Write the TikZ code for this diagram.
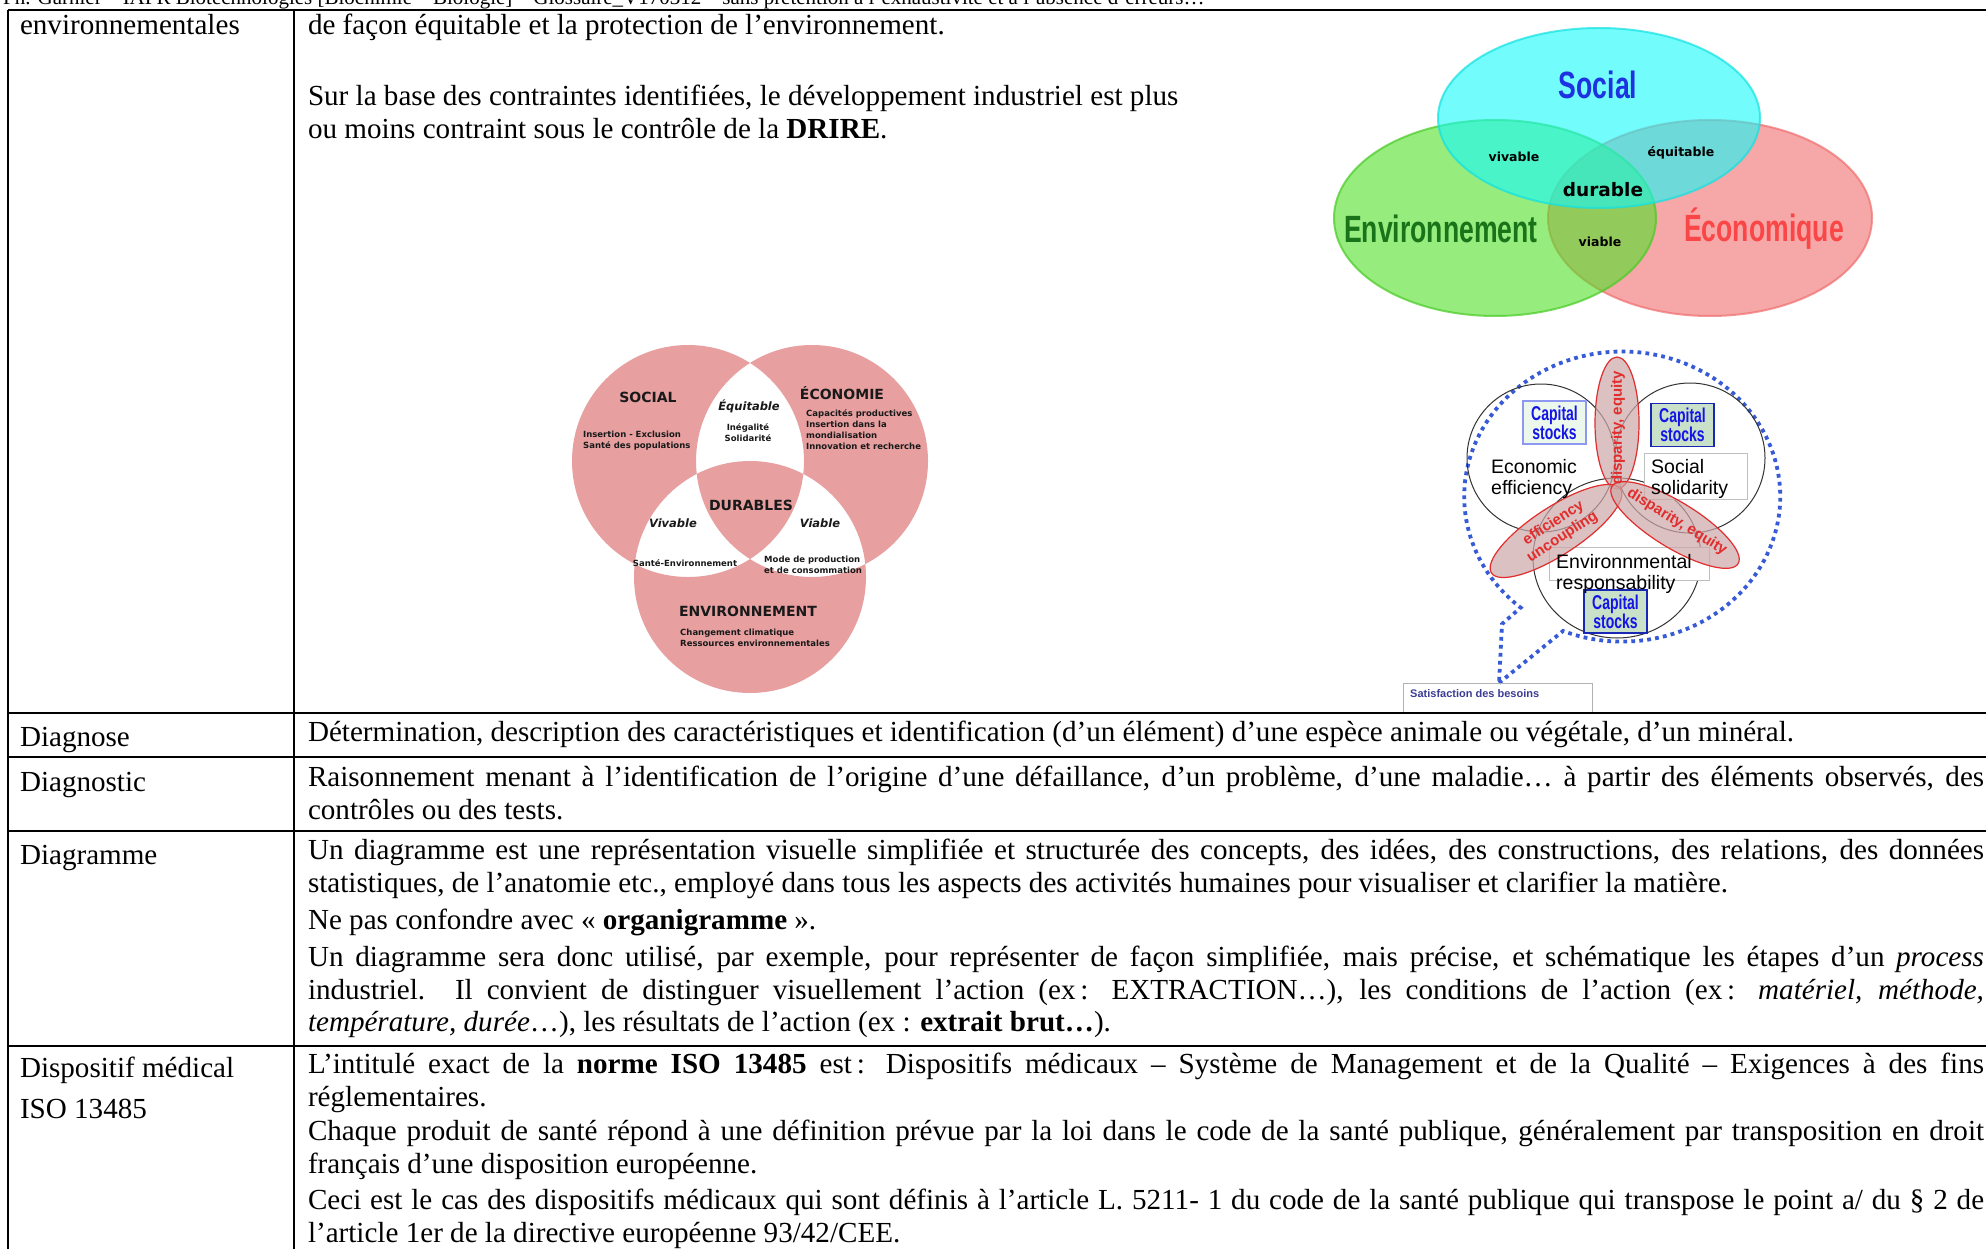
\documentclass[tikz,border=0pt]{standalone}
\usepackage{fontspec}
\setmainfont{Liberation Serif}
\newfontfamily\sansf{Liberation Sans}
\newfontfamily\condf{Liberation Sans}[FakeStretch=0.70]
\newfontfamily\dejaf{DejaVu Sans}
\definecolor{cyanB}{RGB}{20,250,250}
\definecolor{greenB}{RGB}{80,225,40}
\definecolor{pinkB}{RGB}{240,110,110}
\definecolor{pinkV}{RGB}{231,159,160}
\definecolor{socblue}{RGB}{30,50,225}
\definecolor{envgreen}{RGB}{25,115,25}
\definecolor{ecored}{RGB}{250,70,70}
\definecolor{bubbleblue}{RGB}{55,90,215}
\definecolor{petred}{RGB}{225,45,45}
\definecolor{petfill}{RGB}{205,168,168}
\definecolor{capblue}{RGB}{20,20,230}
\definecolor{capfill}{RGB}{200,225,200}
\definecolor{capfillL}{RGB}{236,248,236}
\definecolor{satblue}{RGB}{60,60,150}
\newcommand\bodyfs{\fontsize{29.1}{33}\selectfont}
\newcommand\jl[1]{\hbox to 1676pt{#1}}
\tikzset{
  body/.style={anchor=base west, inner sep=0pt, outer sep=0pt, font=\bodyfs},
  rule/.style={line width=2.4pt, black},
  venn/.style={fill opacity=0.6, draw opacity=0.7, line width=2pt},
  bigl/.style={inner sep=0pt, font={\condf\bfseries\fontsize{38}{38}\selectfont}},
  smalll/.style={inner sep=0pt, font={\dejaf\bfseries\fontsize{12.5}{14}\selectfont}},
  dtitle/.style={inner sep=0pt, text=black!90, font={\dejaf\bfseries\fontsize{14}{16}\selectfont}},
  dital/.style={inner sep=0pt, text=black!90, font={\dejaf\bfseries\itshape\fontsize{11.5}{13}\selectfont}},
  dsmall/.style={inner sep=0pt, anchor=base west, text=black!90, font={\dejaf\bfseries\fontsize{8.5}{10}\selectfont}},
  dsmallc/.style={inner sep=0pt, anchor=base, text=black!90, font={\dejaf\bfseries\fontsize{8.5}{10}\selectfont}},
  thincirc/.style={draw=black!80, line width=1pt},
  bubble/.style={draw=bubbleblue, line width=3.8pt, dash pattern=on 3.8pt off 4.2pt},
  petal/.style={draw=petred, line width=1.2pt, fill=petfill, fill opacity=0.7},
  pettext/.style={inner sep=0pt, text=petred, align=center, font={\sansf\bfseries\fontsize{15}{16}\selectfont}},
  capbox/.style={draw=#1, line width=1.2pt, inner sep=0pt, minimum width=63pt, minimum height=43pt, align=center, text=capblue, font={\condf\bfseries\fontsize{20}{19}\selectfont}},
  blk/.style={inner sep=0pt, anchor=base west, font={\sansf\fontsize{19.5}{21}\selectfont}},
  graybox/.style={draw=black!25, line width=0.8pt, fill=white}
}
\begin{document}
\begin{tikzpicture}[x=1pt,y=-1pt]
\useasboundingbox (0,0) rectangle (1986,1249);
\fill[white] (0,0) rectangle (1986,1249);

% header (cut by the page edge)
\node[anchor=base west, inner sep=0pt, font={\fontsize{21}{21}\selectfont}] (hdr) at (3,5)
  {Ph. Garnier – IAPR Biotechnologies [Biochimie – Biologie] – \underline{Glossaire\_V170312} – sans prétention à l’exhaustivité et à l’absence d’erreurs…};

% ===== Diagram 1 : coloured ellipses =====
\filldraw[venn, fill=pinkB, draw=pinkB] (1710,218) ellipse [x radius=162, y radius=98];
\filldraw[venn, fill=greenB, draw=greenB!90!black] (1495,218) ellipse [x radius=161, y radius=98];
\filldraw[venn, fill=cyanB, draw=cyanB!90!black] (1599,118) ellipse [x radius=161, y radius=90];
\node[bigl, text=socblue] (soc1) at (1598,85) {Social};
\node[bigl, text=envgreen] (env1) at (1441,229) {Environnement};
\node[bigl, text=ecored] (eco1) at (1764,229) {Économique};
\node[smalll] (viv1) at (1514,157) {vivable};
\node[smalll] (equ1) at (1681,153) {équitable};
\node[smalll, font={\dejaf\bfseries\fontsize{18.5}{20}\selectfont}] (dur1) at (1603,190) {durable};
\node[smalll] (via1) at (1600,242) {viable};

% ===== Diagram 2 : pink circles =====
\fill[pinkV, even odd rule] (688,461) circle [radius=116] (812,461) circle [radius=116] (750,577) circle [radius=116];
\node[dtitle] (soc2) at (648,397) {SOCIAL};
\node[dsmall] (soc2a) at (583,437) {Insertion - Exclusion};
\node[dsmall] (soc2b) at (583,448) {Santé des populations};
\node[dital] (equ2) at (749,406) {Équitable};
\node[dsmallc] (equ2a) at (748,430) {Inégalité};
\node[dsmallc] (equ2b) at (748,441) {Solidarité};
\node[dtitle] (eco2) at (842,393) {ÉCONOMIE};
\node[dsmall] (eco2a) at (806,416) {Capacités productives};
\node[dsmall] (eco2b) at (806,427) {Insertion dans la};
\node[dsmall] (eco2c) at (806,438) {mondialisation};
\node[dsmall] (eco2d) at (806,449) {Innovation et recherche};
\node[dtitle] (dur2) at (751,505) {DURABLES};
\node[dital] (viv2) at (673,523) {Vivable};
\node[dital] (via2) at (820,523) {Viable};
\node[dsmallc] (viv2a) at (685,566) {Santé-Environnement};
\node[dsmall] (via2a) at (764,562) {Mode de production};
\node[dsmall] (via2b) at (764,573) {et de consommation};
\node[dtitle] (env2) at (748,611) {ENVIRONNEMENT};
\node[dsmall] (env2a) at (680,635) {Changement climatique};
\node[dsmall] (env2b) at (680,646) {Ressources environnementales};

% ===== Diagram 3 : bubble =====
\draw[bubble] (1499,683) -- (1563,631) arc [start angle=112, end angle=-230, x radius=158, y radius=145] -- (1502,624) -- cycle;
\draw[thincirc] (1541,458) circle [radius=74];
\draw[thincirc] (1690,458) circle [radius=75];
\draw[thincirc] (1617,558) ellipse [x radius=84, y radius=80];
\node[graybox, minimum width=103pt, minimum height=46pt, inner sep=0pt] (socbox) at (1695.5,476) {};
\node[graybox, minimum width=160pt, minimum height=33pt, inner sep=0pt] (envbox) at (1629,563.5) {};
\node[capbox=socblue!50, fill=capfillL] (cap1) at (1554.5,422.5) {Capital\\stocks};
\node[capbox=socblue!80!black, fill=capfill] (cap2) at (1682.5,425) {Capital\\stocks};
\node[capbox=socblue!80!black, fill=capfill] (cap3) at (1615.5,611.5) {Capital\\stocks};
\filldraw[petal] (1617,423) ellipse [x radius=22, y radius=66];
\filldraw[petal, rotate around={33:(1556,531)}] (1556,531) ellipse [x radius=77, y radius=24];
\filldraw[petal, rotate around={-31.5:(1675,525)}] (1675,525) ellipse [x radius=74, y radius=23];
\node[pettext, rotate=90] (pv) at (1618,428) {disparity, equity};
\node[pettext, rotate=33, font={\sansf\bfseries\fontsize{15}{16.5}\selectfont}] (pl) at (1558,530) {efficiency\\uncoupling};
\node[pettext, rotate=-31.5] (pr) at (1677,522) {disparity, equity};
\node[blk] (ec1) at (1491,473) {Economic};
\node[blk] (ec2) at (1491,494) {efficiency};
\node[blk] (so1) at (1651,473) {Social};
\node[blk] (so2) at (1651,494) {solidarity};
\node[blk] (en1) at (1556,568) {Environnmental};
\node[blk] (en2) at (1556,589) {responsability};
\draw[black!30, line width=0.8pt] (1403,713) -- (1403,683) -- (1592,683) -- (1592,713);
\node[inner sep=0pt, anchor=base west, text=satblue, font={\sansf\bfseries\fontsize{11}{12}\selectfont}] (sat) at (1410,697) {Satisfaction des besoins};

% ===== table rules =====
\draw[rule] (8,10) -- (1986,10);
\draw[rule] (8,713) -- (1986,713);
\draw[rule] (8,757) -- (1986,757);
\draw[rule] (8,831) -- (1986,831);
\draw[rule] (8,1046) -- (1986,1046);
\draw[rule] (8,10) -- (8,1249);
\draw[rule] (294,10) -- (294,1249);

% ===== table text =====
\node[body] (c1) at (20,35) {environnementales};
\node[body] (d1) at (308,35) {de façon équitable et la protection de l’environnement.};
\node[body] (d2) at (308,106) {Sur la base des contraintes identifiées, le développement industriel est plus};
\node[body] (d3) at (308,139) {ou moins contraint sous le contrôle de la \textbf{DRIRE}.};

\node[body] (c2) at (20,746) {Diagnose};
\node[body] (d4) at (308,741) {Détermination, description des caractéristiques et identification (d’un élément) d’une espèce animale ou végétale, d’un minéral.};

\node[body] (c3) at (20,791) {Diagnostic};
\node[body] (d5) at (308,786) {\jl{Raisonnement menant à l’identification de l’origine d’une défaillance, d’un problème, d’une maladie… à partir des éléments observés, des}};
\node[body] (d6) at (308,819) {contrôles ou des tests.};

\node[body] (c4) at (20,864) {Diagramme};
\node[body] (d7) at (308,859) {\jl{Un diagramme est une représentation visuelle simplifiée et structurée des concepts, des idées, des constructions, des relations, des données}};
\node[body] (d8) at (308,892) {statistiques, de l’anatomie etc., employé dans tous les aspects des activités humaines pour visualiser et clarifier la matière.};
\node[body] (d9) at (308,929) {Ne pas confondre avec « \textbf{organigramme} ».};
\node[body] (d10) at (308,966) {\jl{Un diagramme sera donc utilisé, par exemple, pour représenter de façon simplifiée, mais précise, et schématique les étapes d’un \textit{process}}};
\node[body] (d11) at (308,999) {\jl{industriel. Il convient de distinguer visuellement l’action (ex\,: EXTRACTION…), les conditions de l’action (ex\,: \textit{matériel, méthode,}}};
\node[body] (d12) at (308,1031) {\textit{température, durée}…), les résultats de l’action (ex : \textbf{extrait brut…}).};

\node[body] (c5) at (20,1077) {Dispositif médical};
\node[body] (c6) at (20,1118) {ISO 13485};
\node[body] (d13) at (308,1073) {\jl{L’intitulé exact de la \textbf{norme ISO 13485} est\,: Dispositifs médicaux – Système de Management et de la Qualité – Exigences à des fins}};
\node[body] (d14) at (308,1106) {réglementaires.};
\node[body] (d15) at (308,1140) {\jl{Chaque produit de santé répond à une définition prévue par la loi dans le code de la santé publique, généralement par transposition en droit}};
\node[body] (d16) at (308,1173) {français d'une disposition européenne.};
\node[body] (d17) at (308,1209) {\jl{Ceci est le cas des dispositifs médicaux qui sont définis à l'article L. 5211- 1 du code de la santé publique qui transpose le point a/ du § 2 de}};
\node[body] (d18) at (308,1242) {l'article 1er de la directive européenne 93/42/CEE.};
\end{tikzpicture}
\end{document}
